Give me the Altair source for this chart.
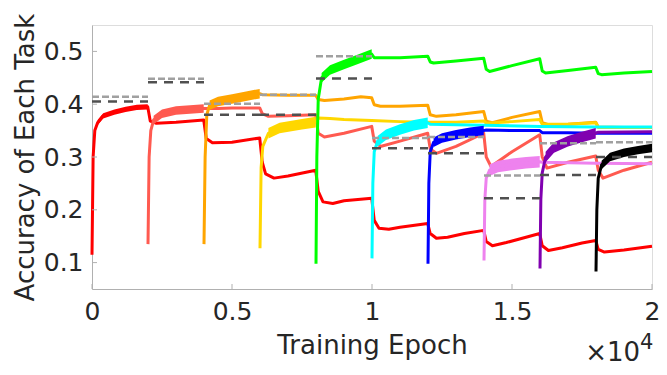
import altair as alt
import pandas as pd

# ---------------- data ----------------
COLORS = ["#FF0000", "#FF5A50", "#FFA500", "#FFD700", "#00FF00",
          "#00FFFF", "#0000FF", "#EE82EE", "#8000B0", "#000000"]
TASK_START = [0, 2000, 4000, 6000, 8000, 10000, 12000, 14000, 16000, 18000]
TASK_END = [2000, 4000, 6000, 8000, 10000, 12000, 14000, 16000, 18000, 20000]
NOISE = [0.005, 0.008, 0.009, 0.010, 0.009, 0.010, 0.009, 0.011, 0.010, 0.008]

LIGHT_REF = [0.414, 0.448, 0.401, 0.418, 0.491, 0.336, 0.338, 0.265, 0.326, 0.328]
DARK_REF = [0.405, 0.4415, 0.380, 0.380, 0.4486, 0.3166, 0.307, 0.222, 0.266, 0.300]

T0_EPOCH = [0, 40, 100, 200, 400, 800, 1200, 1600, 1990, 2080, 2300, 3000, 3990,
            4080, 4300, 5000, 5990, 6080, 6200, 6500, 7000, 7990, 8080, 8250, 8600,
            9000, 9990, 10080, 10250, 10600, 11000, 11990, 12080, 12300, 12700, 13300,
            13990, 14080, 14300, 14800, 15500, 15990, 16080, 16300, 16800, 17500, 17990,
            18080, 18300, 19000, 20000]
T0_ACC = [0.115, 0.30, 0.35, 0.365, 0.378, 0.385, 0.39, 0.394, 0.395, 0.368, 0.364, 0.366, 0.37,
          0.335, 0.327, 0.328, 0.336, 0.29, 0.268, 0.26, 0.264, 0.275, 0.235, 0.215, 0.212,
          0.217, 0.222, 0.18, 0.165, 0.163, 0.167, 0.174, 0.155, 0.146, 0.148, 0.155,
          0.161, 0.14, 0.132, 0.138, 0.148, 0.155, 0.132, 0.123, 0.128, 0.137, 0.142,
          0.125, 0.12, 0.124, 0.131]

T1_EPOCH = [2000, 2040, 2100, 2200, 2500, 3000, 3500, 3990, 4500, 5000, 5990, 6080, 6300,
            7000, 7990, 8080, 8300, 9000, 9990, 10080, 10300, 11000, 11990, 12080, 12300,
            13000, 13990, 14080, 14250, 15000, 15990, 16080, 16250, 17000, 17990, 18080,
            18250, 19000, 20000]
T1_ACC = [0.135, 0.30, 0.35, 0.37, 0.382, 0.388, 0.39, 0.392, 0.392, 0.393, 0.393, 0.382, 0.377,
          0.378, 0.38, 0.345, 0.338, 0.345, 0.358, 0.33, 0.32, 0.33, 0.345, 0.315, 0.307,
          0.32, 0.345, 0.30, 0.282, 0.31, 0.342, 0.30, 0.279, 0.29, 0.302, 0.275,
          0.26, 0.275, 0.29]

T2_EPOCH = [4000, 4040, 4100, 4200, 4500, 5000, 5500, 5990, 6080, 7000, 7990, 8080, 8300,
            9000, 9600, 9990, 10080, 10300, 11000, 11990, 12080, 12300, 13000, 13990,
            14080, 14300, 15000, 15990, 16080, 16300, 17000, 17990, 18080, 19000, 20000]
T2_ACC = [0.135, 0.30, 0.38, 0.398, 0.405, 0.41, 0.415, 0.42, 0.418, 0.417, 0.417, 0.409, 0.407,
          0.41, 0.414, 0.412, 0.399, 0.396, 0.396, 0.398, 0.38, 0.377, 0.38, 0.386,
          0.368, 0.365, 0.375, 0.386, 0.365, 0.361, 0.362, 0.366, 0.357, 0.356, 0.356]

T3_EPOCH = [6000, 6040, 6100, 6300, 6700, 7500, 7990, 8080, 8500, 9000, 9990, 11000, 12000,
            13000, 14000, 14080, 15000, 15990, 16080, 17000, 17990, 18080, 20000]
T3_ACC = [0.127, 0.28, 0.32, 0.345, 0.355, 0.362, 0.366, 0.374, 0.373, 0.371, 0.369, 0.367, 0.366,
          0.366, 0.368, 0.364, 0.367, 0.371, 0.362, 0.362, 0.365, 0.356, 0.356]

T4_EPOCH = [8000, 8030, 8080, 8200, 8500, 9000, 9500, 9990, 10080, 11000, 11990, 12080, 12200,
            13000, 13990, 14080, 14200, 15000, 15990, 16080, 16200, 17000, 17990, 18080,
            18200, 19000, 20000]
T4_ACC = [0.098, 0.30, 0.41, 0.45, 0.465, 0.475, 0.485, 0.495, 0.488, 0.488, 0.491, 0.48, 0.478,
          0.482, 0.487, 0.466, 0.462, 0.473, 0.486, 0.463, 0.459, 0.464, 0.47, 0.458,
          0.456, 0.459, 0.462]

T5_EPOCH = [10000, 10030, 10080, 10200, 10500, 11000, 11500, 11990, 12080, 13000, 14000,
            16000, 18000, 20000]
T5_ACC = [0.108, 0.25, 0.31, 0.33, 0.342, 0.352, 0.36, 0.365, 0.362, 0.361, 0.36,
          0.358, 0.357, 0.357]

T6_EPOCH = [12000, 12030, 12080, 12200, 12500, 13000, 13500, 13990, 14080, 15000, 15990,
            16080, 17000, 18000, 20000]
T6_ACC = [0.098, 0.25, 0.31, 0.328, 0.336, 0.342, 0.347, 0.35, 0.351, 0.35, 0.35,
          0.346, 0.346, 0.345, 0.345]

T7_EPOCH = [14000, 14030, 14080, 14200, 14500, 15000, 15500, 15990, 16080, 18000, 20000]
T7_ACC = [0.104, 0.22, 0.26, 0.275, 0.282, 0.286, 0.289, 0.291, 0.29, 0.288, 0.287]

T8_EPOCH = [16000, 16030, 16080, 16200, 16500, 17000, 17500, 17990, 18080, 20000]
T8_ACC = [0.089, 0.22, 0.27, 0.30, 0.318, 0.33, 0.338, 0.345, 0.347, 0.348]

T9_EPOCH = [18000, 18030, 18080, 18200, 18500, 19000, 19500, 20000]
T9_ACC = [0.083, 0.20, 0.26, 0.285, 0.30, 0.308, 0.313, 0.317]

X_TICKS = [0, 5000, 10000, 15000, 20000]
Y_TICKS = [0.1, 0.2, 0.3, 0.4, 0.5]

EPOCHS = [T0_EPOCH, T1_EPOCH, T2_EPOCH, T3_EPOCH, T4_EPOCH,
          T5_EPOCH, T6_EPOCH, T7_EPOCH, T8_EPOCH, T9_EPOCH]
ACCS = [T0_ACC, T1_ACC, T2_ACC, T3_ACC, T4_ACC,
        T5_ACC, T6_ACC, T7_ACC, T8_ACC, T9_ACC]

# ---------------- tables ----------------
curve_rows, band_rows = [], []
for i in range(10):
    for e, a in zip(EPOCHS[i], ACCS[i]):
        curve_rows.append({"task": i, "epoch": e, "acc": a})
        if TASK_START[i] + 150 <= e <= TASK_END[i]:
            band_rows.append({"task": i, "epoch": e,
                              "lo": a - NOISE[i], "hi": a + NOISE[i]})
curves = pd.DataFrame(curve_rows)
bands = pd.DataFrame(band_rows)
refs = pd.DataFrame({"x0": TASK_START, "x1": TASK_END,
                     "light": LIGHT_REF, "dark": DARK_REF})

FONT = "DejaVu Sans"
TXT = "#262626"
AX = "#B0B0B0"

xscale = alt.Scale(domain=[0, 20000], nice=False, zero=False)
yscale = alt.Scale(domain=[0.05, 0.55], nice=False, zero=False)

x_axis = alt.Axis(values=X_TICKS, labelExpr="datum.value / 10000", grid=False,
                  ticks=False, domainColor=AX, domainWidth=1, labelFont=FONT,
                  labelFontSize=25, labelColor=TXT, labelPadding=10, labelFlush=False,
                  labelOverlap=False, title="Training Epoch", titleFont=FONT,
                  titleFontSize=26, titleFontWeight="normal", titleColor=TXT,
                  titleBaseline="alphabetic", titleX=280, titleY=64)
y_axis = alt.Axis(values=Y_TICKS, format=".1f", grid=False, ticks=False,
                  domainColor=AX, domainWidth=1, labelFont=FONT, labelFontSize=25,
                  labelColor=TXT, labelPadding=9, labelFlush=False, labelOverlap=False,
                  title="Accuracy of Each Task", titleFont=FONT, titleFontSize=26,
                  titleFontWeight="normal", titleColor=TXT,
                  titleBaseline="alphabetic", titleX=-59, titleY=132)


def X(field):
    return alt.X(field, type="quantitative", scale=xscale, axis=x_axis)


def Y(field):
    return alt.Y(field, type="quantitative", scale=yscale, axis=y_axis)


layers = []
for i in range(10):
    layers.append(
        alt.Chart(bands).transform_filter(alt.datum.task == i)
        .mark_area(color=COLORS[i], opacity=1)
        .encode(x=X("epoch"), y=Y("lo"), y2="hi")
    )
    layers.append(
        alt.Chart(curves).transform_filter(alt.datum.task == i)
        .mark_line(color=COLORS[i], strokeWidth=3, strokeJoin="round")
        .encode(x=X("epoch"), y=Y("acc"))
    )

layers.append(
    alt.Chart(refs).mark_rule(color="#A0A0A0", strokeWidth=2.5, strokeDash=[7, 3])
    .encode(x=X("x0"), x2="x1", y=Y("light"))
)
layers.append(
    alt.Chart(refs).mark_rule(color="#505050", strokeWidth=2.5, strokeDash=[9, 7])
    .encode(x=X("x0"), x2="x1", y=Y("dark"))
)

# inward tick marks
layers.append(
    alt.Chart(pd.DataFrame({"t": X_TICKS})).mark_rule(color=AX, strokeWidth=1)
    .encode(x=X("t"), y=alt.value(264), y2=alt.value(259))
)
layers.append(
    alt.Chart(pd.DataFrame({"v": Y_TICKS})).mark_rule(color=AX, strokeWidth=1)
    .encode(y=Y("v"), x=alt.value(0), x2=alt.value(5))
)

one = pd.DataFrame({"k": [0]})
layers.append(
    alt.Chart(one).mark_text(text="×10", font=FONT, fontSize=26, color=TXT,
                             align="right", baseline="alphabetic", dx=-12, dy=72)
    .encode(x=alt.datum(20000, scale=xscale), y=alt.datum(0.05, scale=yscale))
)
layers.append(
    alt.Chart(one).mark_text(text="4", font=FONT, fontSize=21, color=TXT,
                             align="left", baseline="alphabetic", dx=-12, dy=60)
    .encode(x=alt.datum(20000, scale=xscale), y=alt.datum(0.05, scale=yscale))
)

chart = (
    alt.layer(*layers)
    .properties(width=560, height=264,
                padding={"left": 84, "top": 17, "right": 7, "bottom": 78},
                autosize=alt.AutoSizeParams(type="none"))
    .configure_view(stroke=None)
    .configure(background="white")
)

chart.save("out.html", embed_options={"renderer": "svg", "actions": False})
